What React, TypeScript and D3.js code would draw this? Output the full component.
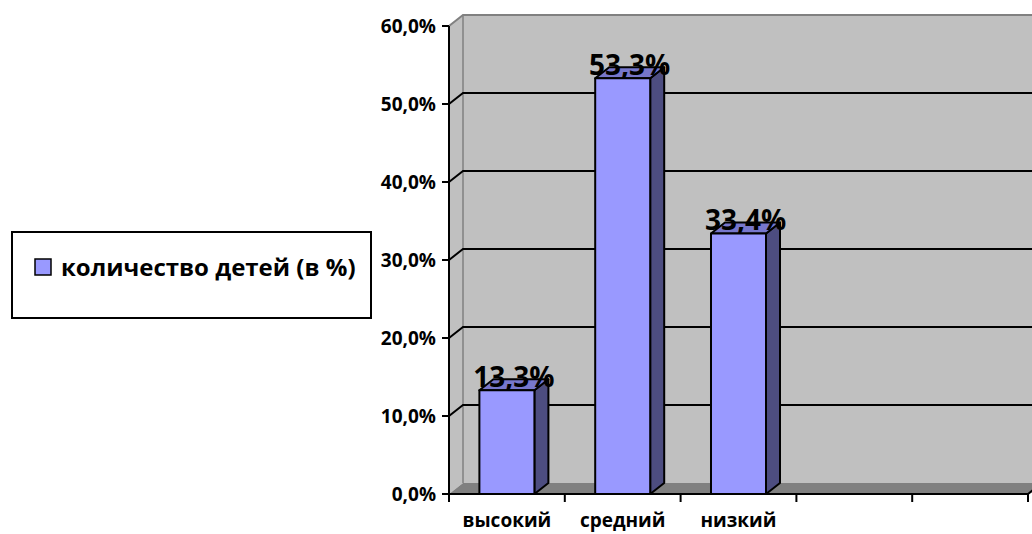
import React from "react";
import * as d3 from "d3";

// Chart data
const categories: string[] = ["высокий", "средний", "низкий", "", ""];
const values: (number | null)[] = [0.133, 0.533, 0.334, null, null];
const valueLabels: string[] = ["13,3%", "53,3%", "33,4%", "", ""];
const yTicks: number[] = [0, 0.1, 0.2, 0.3, 0.4, 0.5, 0.6];
const seriesName = "количество детей (в %)";

const W = 1032;
const H = 534;

// 3D depth offset of the walls and the bars
const DX = 14;
const DY = -11;

const COLORS = {
  wall: "#C0C0C0",
  wallEdge: "#808080",
  floor: "#808080",
  front: "#9999FF",
  top: "#7777CC",
  side: "#4D4D80",
  ink: "#000000",
};

const ruLocale = d3.formatLocale({
  decimal: ",",
  thousands: " ",
  grouping: [3],
  currency: ["", " ₽"],
  percent: "%",
});
const fmtPct = ruLocale.format(".1%");

const FONT = "'Open Sans', 'Noto Sans', sans-serif";

export default function App() {
  const x0 = 449;
  const x1 = 1028;
  const y = d3.scaleLinear().domain([0, 0.6]).range([494, 26]);
  const x = d3.scaleBand<string>().domain(categories.map((_, i) => String(i))).range([x0, x1]);
  const bw = x.bandwidth();
  const barW = bw * 0.475;
  const yBase = y(0);
  const yTop = y(0.6);

  const pts = (p: [number, number][]) => p.map((q) => q.join(",")).join(" ");

  return (
    <svg
      width={W}
      height={H}
      viewBox={`0 0 ${W} ${H}`}
      style={{ position: "absolute", left: 0, top: 0, background: "#fff" }}
    >
      {/* walls */}
      <polygon
        points={pts([
          [x0, yBase],
          [x0, yTop],
          [x0 + DX, yTop + DY],
          [x0 + DX, yBase + DY],
        ])}
        fill={COLORS.wall}
      />
      <rect
        x={x0 + DX}
        y={yTop + DY}
        width={x1 - x0 + 10}
        height={yBase - yTop}
        fill={COLORS.wall}
      />
      {/* floor */}
      <polygon
        points={pts([
          [x0, yBase],
          [x1, yBase],
          [x1 + DX, yBase + DY],
          [x0 + DX, yBase + DY],
        ])}
        fill={COLORS.floor}
      />
      {/* wall edges */}
      <polyline
        points={pts([
          [x0, yTop],
          [x0 + DX, yTop + DY],
          [W + 10, yTop + DY],
        ])}
        fill="none"
        stroke={COLORS.wallEdge}
        strokeWidth={2}
      />
      <line
        x1={x0 + DX}
        x2={x0 + DX}
        y1={yTop + DY}
        y2={yBase + DY}
        stroke={COLORS.wallEdge}
        strokeWidth={1.5}
      />
      {/* gridlines */}
      {yTicks
        .filter((t) => t > 0 && t < 0.6)
        .map((t) => (
          <polyline
            key={`g${t}`}
            points={pts([
              [x0, y(t)],
              [x0 + DX, y(t) + DY],
              [W + 10, y(t) + DY],
            ])}
            fill="none"
            stroke={COLORS.ink}
            strokeWidth={2}
          />
        ))}
      {/* y axis */}
      <line x1={x0} x2={x0} y1={yTop} y2={yBase + 1} stroke={COLORS.ink} strokeWidth={2} />
      {yTicks.map((t) => (
        <g key={`t${t}`}>
          <line x1={x0 - 7} x2={x0} y1={y(t)} y2={y(t)} stroke={COLORS.ink} strokeWidth={2} />
          <text
            x={436}
            y={y(t)}
            dy="0.36em"
            textAnchor="end"
            fontFamily={FONT}
            fontWeight={700}
            fontSize={19}
            fill={COLORS.ink}
          >
            {fmtPct(t)}
          </text>
        </g>
      ))}
      {/* x axis */}
      <line x1={x0} x2={x1} y1={yBase} y2={yBase} stroke={COLORS.ink} strokeWidth={2} />
      <line x1={x1} x2={x1 + DX} y1={yBase} y2={yBase + DY} stroke={COLORS.ink} strokeWidth={2} />
      {categories.map((c, i) => {
        const left = x(String(i)) as number;
        return (
          <line
            key={`xt${i}`}
            x1={left}
            x2={left}
            y1={yBase}
            y2={yBase + 8}
            stroke={COLORS.ink}
            strokeWidth={2}
          />
        );
      })}
      <line x1={x1} x2={x1} y1={yBase} y2={yBase + 8} stroke={COLORS.ink} strokeWidth={2} />
      {categories.map((c, i) => (
        <text
          key={`xl${i}`}
          x={(x(String(i)) as number) + bw / 2}
          y={527}
          textAnchor="middle"
          fontFamily={FONT}
          fontWeight={700}
          fontSize={19}
          fill={COLORS.ink}
        >
          {c}
        </text>
      ))}
      {/* bars */}
      {values.map((v, i) => {
        if (v == null) return null;
        const cx = (x(String(i)) as number) + bw / 2;
        const bx0 = cx - barW / 2;
        const bx1 = cx + barW / 2;
        const yt = y(v);
        return (
          <g key={`b${i}`} stroke={COLORS.ink} strokeWidth={2} strokeLinejoin="round">
            <polygon
              points={pts([
                [bx1, yt],
                [bx1 + DX, yt + DY],
                [bx1 + DX, yBase + DY],
                [bx1, yBase],
              ])}
              fill={COLORS.side}
            />
            <polygon
              points={pts([
                [bx0, yt],
                [bx1, yt],
                [bx1 + DX, yt + DY],
                [bx0 + DX, yt + DY],
              ])}
              fill={COLORS.top}
            />
            <rect x={bx0} y={yt} width={barW} height={yBase - yt} fill={COLORS.front} />
          </g>
        );
      })}
      {/* value labels */}
      {values.map((v, i) => {
        if (v == null) return null;
        const cx = (x(String(i)) as number) + bw / 2 + DX / 2;
        return (
          <text
            key={`vl${i}`}
            x={cx}
            y={y(v) - 3}
            textAnchor="middle"
            fontFamily={FONT}
            fontWeight={700}
            fontSize={28}
            fill={COLORS.ink}
          >
            {valueLabels[i]}
          </text>
        );
      })}
      {/* legend */}
      <rect x={12} y={232} width={359} height={86} fill="#fff" stroke={COLORS.ink} strokeWidth={2} />
      <rect x={35} y={259} width={16} height={16} fill={COLORS.front} stroke={COLORS.ink} strokeWidth={1.5} />
      <text
        x={61}
        y={276}
        fontFamily={FONT}
        fontWeight={700}
        fontSize={24}
        fill={COLORS.ink}
      >
        {seriesName}
      </text>
    </svg>
  );
}
